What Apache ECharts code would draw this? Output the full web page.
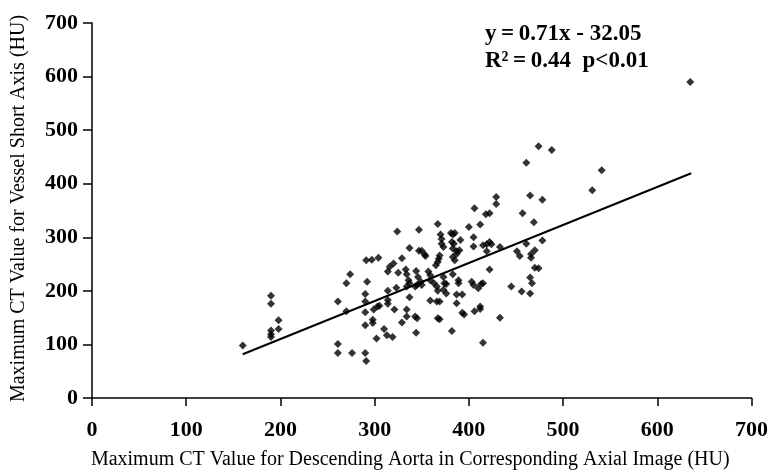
<!DOCTYPE html>
<html><head><meta charset="utf-8">
<script src="https://cdn.jsdelivr.net/npm/echarts@6/dist/echarts.min.js"></script>
<style>html,body{margin:0;padding:0;background:#fff}#c{width:771px;height:475px}</style>
</head><body><div id="c"></div>
<script>
// Maximum CT value, descending aorta (HU)
const xValues = [160,190,190,190,190,190,198,198,261,261,261,276,290,291,270,274,270,290,290,290,
292,291,297,304,290,298,298,302,299,303,305,310,313,319,314,314,314,316,314,320,
324,321,323,325,329,329,334,334,333,334,337,336,337,334,337,343,345,344,343,345,
344,346,347,347,350,353,354,349,350,357,359,359,359,366,369,367,369,363,366,367,
365,367,367,369,368,370,371,371,373,373,374,376,373,376,381,383,385,382,384,383,
387,383,383,387,385,382,389,389,387,393,387,391,390,393,395,400,405,405,403,405,
410,413,415,406,406,412,412,412,415,415,419,422,424,418,422,422,429,429,433,419,
474,488,461,541,531,465,478,457,469,478,461,433,451,454,470,466,466,470,474,465,
467,465,445,456,635];
// Maximum CT value, vessel short axis (HU)
const yValues = [98,191,176,126,119,114,145,129,180,101,84,84,84,69,214,231,162,160,194,180,
217,257,258,262,136,146,140,111,165,171,172,129,117,114,200,183,176,245,236,251,
311,165,206,234,261,141,165,152,240,231,280,220,214,208,188,152,149,122,208,211,
237,226,314,275,275,268,265,217,211,236,229,220,182,180,180,149,147,214,208,200,
248,254,325,266,260,305,297,288,282,226,214,213,202,195,308,305,308,291,288,279,
274,231,263,269,257,125,220,214,193,193,177,295,276,159,156,319,300,283,217,211,
205,213,214,354,162,324,171,166,103,285,287,291,287,343,345,240,375,362,150,274,
470,463,439,425,388,378,370,345,328,294,288,282,274,265,276,269,262,243,242,225,
214,195,208,199,590];
// regression line endpoints (y = 0.71x - 32.05)
const fitX = [160, 636];
const fitY = [81.6, 419.5];
const axisMin = 0, axisMax = 700, axisStep = 100;
const xTitle = 'Maximum CT Value for Descending Aorta in Corresponding Axial Image (HU)';
const yTitle = 'Maximum CT Value for Vessel Short Axis (HU)';
const equationText = 'y\u2009=\u20090.71x - 32.05';
const statsText = 'R\u00B2\u2009=\u20090.44  p<0.01';

const points = xValues.map((x, i) => [x, yValues[i]]);
const fitLine = fitX.map((x, i) => [x, fitY[i]]);
const serif = "'Liberation Serif','Times New Roman',serif";
const labelStyle = {color: '#000', fontFamily: serif, fontSize: 22, fontWeight: 'bold'};
const lineStyleAxis = {color: '#000', width: 1.5};

const chart = echarts.init(document.getElementById('c'), null, {renderer: 'canvas'});
chart.setOption({
  animation: false,
  backgroundColor: '#fff',
  grid: {left: 92, right: 19, top: 23, bottom: 73, containLabel: false},
  xAxis: {
    type: 'value', min: axisMin, max: axisMax, interval: axisStep,
    axisLine: {show: true, lineStyle: lineStyleAxis},
    axisTick: {show: true, length: 8, lineStyle: lineStyleAxis},
    axisLabel: Object.assign({margin: 21}, labelStyle),
    splitLine: {show: false},
    name: xTitle, nameLocation: 'middle', nameGap: 52,
    nameTextStyle: {color: '#000', fontFamily: serif, fontSize: 20, padding: [0, 23, 0, 0]}
  },
  yAxis: {
    type: 'value', min: axisMin, max: axisMax, interval: axisStep,
    axisLine: {show: true, lineStyle: lineStyleAxis},
    axisTick: {show: true, length: 9, lineStyle: lineStyleAxis},
    axisLabel: Object.assign({margin: 14}, labelStyle),
    splitLine: {show: false},
    name: yTitle, nameLocation: 'middle', nameGap: 63, nameRotate: 90,
    nameTextStyle: {color: '#000', fontFamily: serif, fontSize: 20, padding: [0, 0, 0, 4]}
  },
  graphic: [
    {type: 'text', left: 485, top: 23, style: {text: equationText, fill: '#000', font: 'bold 23px ' + serif}},
    {type: 'text', left: 485, top: 50, style: {text: statsText, fill: '#000', font: 'bold 23px ' + serif}}
  ],
  series: [
    {type: 'scatter', data: points, symbol: 'diamond', symbolSize: 8,
     itemStyle: {color: '#000'}, z: 3},
    {type: 'line', data: fitLine, showSymbol: false, symbol: 'none',
     lineStyle: {color: '#000', width: 2}, z: 2}
  ]
});
</script></body></html>
